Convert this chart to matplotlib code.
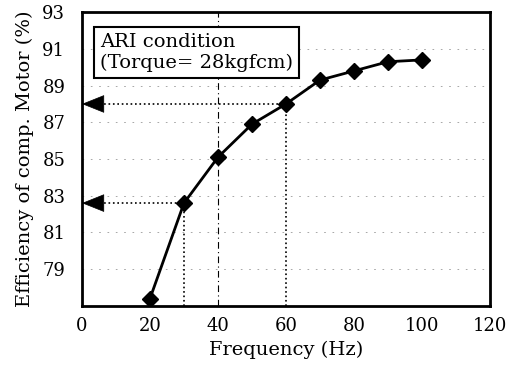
import matplotlib
matplotlib.use("Agg")
import matplotlib.pyplot as plt

freq = [20, 30, 40, 50, 60, 70, 80, 90, 100]
eff = [77.4, 82.6, 85.1, 86.9, 88.0, 89.3, 89.8, 90.3, 90.4]
xticks = [0, 20, 40, 60, 80, 100, 120]
yticks = [79, 81, 83, 85, 87, 89, 91, 93]
marked_freqs = [30, 60]
ref_freq = 40

plt.rcParams['font.family'] = ['DejaVu Serif']

fig = plt.figure(figsize=(5.19, 3.69), dpi=100)
ax = fig.add_axes([0.158, 0.171, 0.786, 0.796])
ax.set_xlim(0, 120)
ax.set_ylim(77, 93)
ax.set_xticks(xticks)
ax.set_yticks(yticks)
ax.tick_params(axis='both', length=0, labelsize=13)
ax.tick_params(axis='y', pad=12)
ax.tick_params(axis='x', pad=8)
for s in ax.spines.values():
    s.set_linewidth(2)

# faint grid
for y in yticks[:-1]:
    ax.axhline(y, color='0.6', lw=0.6, ls=(0, (2, 8)), zorder=0)

# reference vertical dash-dot line
ax.axvline(ref_freq, color='k', lw=0.8, ls=(0, (6, 3, 1, 3)), zorder=1)

# guides from marked points
for f in marked_freqs:
    v = eff[freq.index(f)]
    ax.plot([f, f], [77, v], color='k', lw=1.2, ls=':', zorder=2)
    ax.plot([0, f], [v, v], color='k', lw=1.2, ls=':', zorder=2)
    ax.annotate('', xy=(0, v), xytext=(6, v),
                arrowprops=dict(arrowstyle='-|>,head_length=1.5,head_width=0.6',
                                color='k', lw=0.5, shrinkA=0, shrinkB=0),
                annotation_clip=False, zorder=3)

ax.plot(freq, eff, color='k', lw=2, marker='D', markersize=8, zorder=4)

ax.text(5.2, 91.85, 'ARI condition\n(Torque= 28kgfcm)', fontsize=14, va='top', ha='left',
        linespacing=1.15,
        bbox=dict(boxstyle='square,pad=0.3', fc='white', ec='k', lw=1.5), zorder=5)

ax.set_xlabel('Frequency (Hz)', fontsize=14, labelpad=4)
ax.set_ylabel('Efficiency of comp. Motor (%)', fontsize=14, labelpad=6)

fig.savefig('out.png', dpi=100)
